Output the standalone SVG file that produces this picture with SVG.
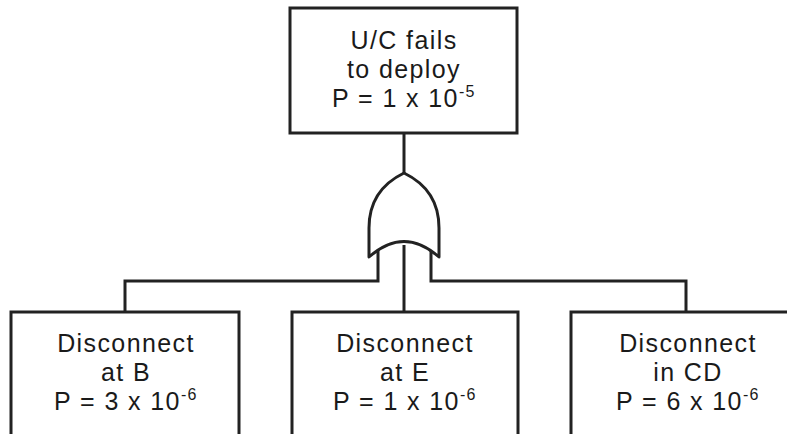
<svg xmlns="http://www.w3.org/2000/svg" width="787" height="434" viewBox="0 0 787 434">
  <style>
    .box { fill: #ffffff; stroke: #222222; stroke-width: 3; }
    .wire { fill: none; stroke: #222222; stroke-width: 3; stroke-linejoin: miter; }
    .gate { fill: #ffffff; stroke: #222222; stroke-width: 3; stroke-linejoin: round; }
    .lbl { font-family: "Liberation Sans", Arial, sans-serif; font-size: 25px; fill: #1a1a1a; text-anchor: middle; letter-spacing: 1.4px; }
    .sup { font-size: 16px; }
  </style>
  <rect width="787" height="434" fill="#ffffff"/>

  <!-- connectors -->
  <g id="connectors">
    <path class="wire" d="M404,133 V175"/>
    <path class="wire" d="M378,250 V281 H125 V312"/>
    <path class="wire" d="M404,245 V312"/>
    <path class="wire" d="M431,250 V281 H686 V312"/>
  </g>

  <!-- OR gate -->
  <g id="or-gate">
    <path class="gate" d="M369,257 L369,228 Q369,190 404,173 Q439,190 439,228 L439,257 Q404,226 369,257 Z"/>
  </g>

  <!-- top event -->
  <g id="top-event">
    <rect class="box" x="290" y="8" width="227" height="125"/>
    <text class="lbl" x="404" y="49">U/C fails</text>
    <text class="lbl" x="404" y="78">to deploy</text>
    <text class="lbl" x="404" y="107">P = 1 x 10<tspan class="sup" dy="-10">-5</tspan></text>
  </g>

  <!-- basic events -->
  <g id="event-b">
    <rect class="box" x="11" y="312" width="228" height="135"/>
    <text class="lbl" x="126" y="352">Disconnect</text>
    <text class="lbl" x="126" y="381">at B</text>
    <text class="lbl" x="126" y="410">P = 3 x 10<tspan class="sup" dy="-10">-6</tspan></text>
  </g>

  <g id="event-e">
    <rect class="box" x="292" y="312" width="226" height="135"/>
    <text class="lbl" x="405" y="352">Disconnect</text>
    <text class="lbl" x="405" y="381">at E</text>
    <text class="lbl" x="405" y="410">P = 1 x 10<tspan class="sup" dy="-10">-6</tspan></text>
  </g>

  <g id="event-cd">
    <rect class="box" x="571" y="312" width="230" height="135"/>
    <text class="lbl" x="688" y="352">Disconnect</text>
    <text class="lbl" x="688" y="381">in CD</text>
    <text class="lbl" x="688" y="410">P = 6 x 10<tspan class="sup" dy="-10">-6</tspan></text>
  </g>
</svg>
